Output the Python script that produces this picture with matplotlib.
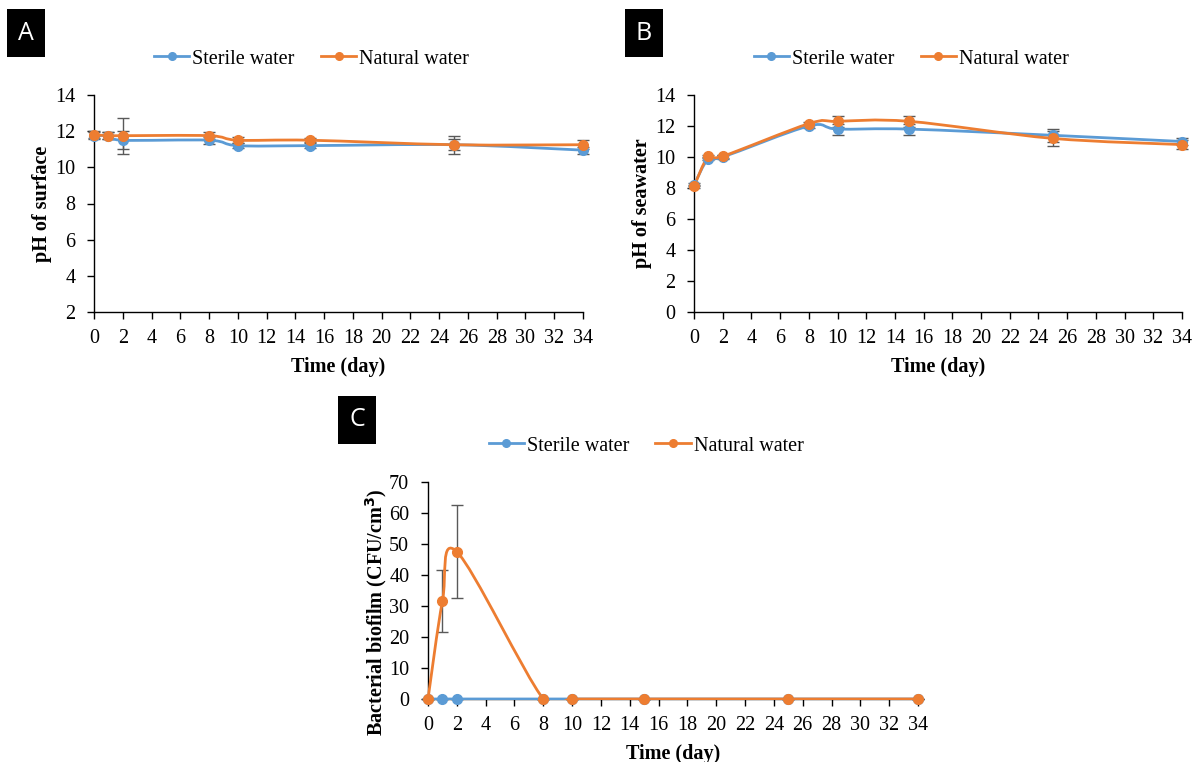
import numpy as np
import matplotlib
matplotlib.use("Agg")
import matplotlib.pyplot as plt
from matplotlib.path import Path
from matplotlib.patches import PathPatch, Rectangle
from matplotlib.lines import Line2D

days = [0, 1, 2, 8, 10, 15, 25, 34]

# Panel A: pH of surface
a_sterile = [11.75, 11.75, 11.5, 11.5, 11.2, 11.2, 11.25, 10.95]
a_sterile_err = [0.2, 0.2, 0.5, 0.2, 0.15, 0.15, 0.3, 0.2]
a_natural = [11.8, 11.75, 11.75, 11.75, 11.5, 11.5, 11.25, 11.25]
a_natural_err = [0.2, 0.2, 1.0, 0.2, 0.15, 0.1, 0.5, 0.25]

# Panel B: pH of seawater
b_sterile = [8.2, 9.9, 10.0, 12.0, 11.8, 11.8, 11.4, 11.0]
b_sterile_err = [0.1, 0.1, 0.1, 0.1, 0.35, 0.35, 0.4, 0.25]
b_natural = [8.1, 10.05, 10.05, 12.15, 12.3, 12.3, 11.2, 10.8]
b_natural_err = [0.1, 0.1, 0.1, 0.1, 0.35, 0.35, 0.5, 0.3]

# Panel C: bacterial biofilm
c_sterile = [0, 0, 0, 0, 0, 0, 0, 0]
c_sterile_err = [0, 0, 0, 0, 0, 0, 0, 0]
c_natural = [0, 31.5, 47.5, 0, 0, 0, 0, 0]
c_natural_err = [0, 10, 15, 0, 0, 0, 0, 0]

series_names = ["Sterile water", "Natural water"]
BLUE = "#5B9BD5"
ORANGE = "#ED7D31"
ERR = "#595959"

plt.rcParams["font.family"] = ["Liberation Serif", "DejaVu Serif"]

W, H = 1200, 762
fig = plt.figure(figsize=(W / 100, H / 100), dpi=100)


def smooth_path(ax, x, y, color):
    # Excel-like smoothed line: cubic Bezier segments through the data points
    x = np.asarray(x, float)
    y = np.asarray(y, float)
    n = len(x)
    verts = [(x[0], y[0])]
    codes = [Path.MOVETO]
    for i in range(n - 1):
        p0 = np.array([x[max(i - 1, 0)], y[max(i - 1, 0)]])
        p1 = np.array([x[i], y[i]])
        p2 = np.array([x[i + 1], y[i + 1]])
        p3 = np.array([x[min(i + 2, n - 1)], y[min(i + 2, n - 1)]])
        c1 = p1 + (p2 - p0) / 6.0
        c2 = p2 - (p3 - p1) / 6.0
        verts += [tuple(c1), tuple(c2), tuple(p2)]
        codes += [Path.CURVE4] * 3
    patch = PathPatch(Path(verts, codes), facecolor="none", edgecolor=color,
                      lw=2.0, zorder=3, capstyle="round", joinstyle="round")
    ax.add_patch(patch)
    # clip like the chart's plot area, leaving room for half the line width
    clip = Rectangle((-0.02, -0.006), 1.04, 1.03, transform=ax.transAxes,
                     facecolor="none", edgecolor="none")
    ax.add_patch(clip)
    patch.set_clip_path(clip)


def px_rect(l, t, r, b):
    return [l / W, 1 - b / H, (r - l) / W, (b - t) / H]


def panel(box, s, se, nat, ne, ylim, yticks, ylabel, ylabel_y, letter, letter_box,
          legend_y):
    ax = fig.add_axes(px_rect(*box))
    for vals, errs, col in ((s, se, BLUE), (nat, ne, ORANGE)):
        smooth_path(ax, days, vals, col)
        ax.errorbar(days, vals, yerr=errs, fmt="none", ecolor=ERR, elinewidth=1.0,
                    capsize=4.5, capthick=1.0, zorder=2, clip_on=False)
        ax.plot(days, vals, "o", color=col, ms=7, zorder=4, clip_on=False)
    ax.set_xlim(0, 34)
    ax.set_ylim(*ylim)
    ax.set_xticks(range(0, 35, 2))
    ax.set_yticks(yticks)
    for sp in ("top", "right"):
        ax.spines[sp].set_visible(False)
    for sp in ("left", "bottom"):
        ax.spines[sp].set_color("black")
        ax.spines[sp].set_linewidth(1.0)
    ax.tick_params(direction="out", length=5, width=1, labelsize=14.5, colors="black")
    ax.tick_params(axis="x", pad=7.5)
    ax.tick_params(axis="y", pad=8.5)
    ax.set_xlabel("Time (day)", fontsize=14.5, fontweight="bold", labelpad=6.5)
    ax.set_ylabel(ylabel, fontsize=14.5, fontweight="bold", va="center", ha="center")
    ax.yaxis.set_label_coords(-0.106, ylabel_y)
    handles = [Line2D([0], [0], color=BLUE, lw=2, marker="o", ms=5.5),
               Line2D([0], [0], color=ORANGE, lw=2, marker="o", ms=5.5)]
    ax.legend(handles, series_names, loc="center", bbox_to_anchor=(0.445, legend_y),
              ncol=2, frameon=False, fontsize=14.5, handlelength=1.75,
              handletextpad=0.15, columnspacing=1.3, borderpad=0, borderaxespad=0)
    l, t, r, b = letter_box
    fig.add_artist(Rectangle((l / W, 1 - b / H), (r - l) / W, (b - t) / H,
                             transform=fig.transFigure, facecolor="black",
                             edgecolor="none"))
    fig.text((l + r) / 2 / W, 1 - (t + b) / 2 / H, letter, color="white", fontsize=18,
             family=["Open Sans", "DejaVu Sans"], ha="center", va="center")
    return ax


panel((94, 95, 583, 312), a_sterile, a_sterile_err, a_natural, a_natural_err,
      (2, 14), range(2, 15, 2), "pH of surface", 0.5, "A", (7, 9, 45, 57), 1.166)
panel((694, 95, 1182, 312), b_sterile, b_sterile_err, b_natural, b_natural_err,
      (0, 14), range(0, 15, 2), "pH of seawater", 0.5, "B", (625, 9, 663, 57), 1.166)
panel((428, 482, 918, 699), c_sterile, c_sterile_err, c_natural, c_natural_err,
      (0, 70), range(0, 71, 10), "Bacterial biofilm (CFU/cm$^\\mathbf{3}$)", 0.40, "C",
      (338, 396, 376, 444), 1.166)

fig.savefig("out.png", dpi=100)
